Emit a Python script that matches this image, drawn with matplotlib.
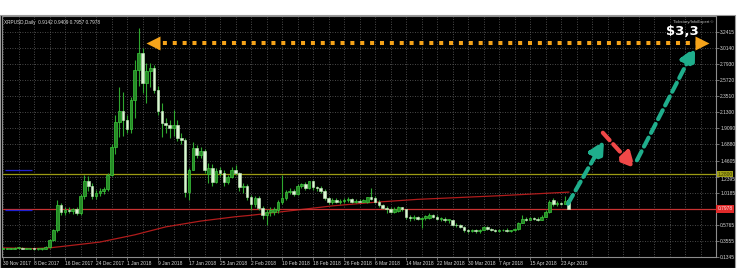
import matplotlib
matplotlib.use('Agg')
import matplotlib.pyplot as plt
import matplotlib.transforms as mtransforms
from matplotlib.patches import Rectangle
import numpy as np

# XRPUSD daily candles, 30 Nov 2017 .. 25 Apr 2018 (one per day)
opens = [0.25, 0.25, 0.25, 0.25, 0.26, 0.26, 0.25, 0.25, 0.25, 0.24, 0.24, 0.25, 0.27, 0.37, 0.50,
         0.85, 0.76, 0.78, 0.77, 0.80, 0.74, 0.97, 1.18, 1.12, 0.97, 1.02, 1.04, 1.07, 1.27, 1.65,
         2.00, 2.15, 2.03, 1.90, 2.30, 2.72, 2.95, 2.54, 2.70, 2.74, 2.44, 2.15, 1.98, 1.96, 1.92,
         1.96, 1.78, 1.75, 1.03, 1.34, 1.64, 1.54, 1.60, 1.28, 1.36, 1.17, 1.34, 1.30, 1.17, 1.24,
         1.33, 1.29, 1.10, 1.12, 0.96, 0.86, 0.95, 0.81, 0.71, 0.76, 0.76, 0.78, 0.90, 0.95, 1.03,
         1.05, 1.00, 1.12, 1.14, 1.09, 1.18, 1.10, 1.08, 1.05, 0.95, 0.89, 0.92, 0.90, 0.91, 0.92,
         0.93, 0.90, 0.91, 0.90, 0.90, 0.96, 0.95, 0.90, 0.85, 0.81, 0.80, 0.76, 0.77, 0.82, 0.79,
         0.68, 0.67, 0.69, 0.66, 0.67, 0.67, 0.72, 0.69, 0.66, 0.66, 0.64, 0.64, 0.58, 0.58, 0.55,
         0.50, 0.49, 0.51, 0.49, 0.51, 0.55, 0.52, 0.51, 0.49, 0.50, 0.51, 0.49, 0.50, 0.52, 0.61,
         0.66, 0.65, 0.67, 0.66, 0.65, 0.69, 0.76, 0.92, 0.86, 0.88, 0.87, 0.9142]
highs = [0.26, 0.26, 0.26, 0.27, 0.27, 0.27, 0.26, 0.26, 0.26, 0.25, 0.26, 0.28, 0.38, 0.52, 0.92,
         0.88, 0.82, 0.82, 0.81, 0.83, 1.00, 1.27, 1.25, 1.15, 1.06, 1.08, 1.10, 1.30, 1.70, 2.10,
         2.48, 2.41, 2.10, 2.34, 2.85, 3.30, 3.02, 2.81, 2.81, 2.78, 2.50, 2.26, 2.05, 2.02, 2.16,
         2.02, 1.85, 1.78, 1.36, 1.72, 1.68, 1.65, 1.62, 1.43, 1.42, 1.36, 1.38, 1.34, 1.27, 1.38,
         1.40, 1.31, 1.15, 1.14, 0.99, 0.98, 0.98, 0.84, 0.80, 0.82, 0.83, 0.92, 1.27, 1.06, 1.08,
         1.07, 1.14, 1.16, 1.17, 1.19, 1.20, 1.12, 1.11, 1.07, 0.96, 0.95, 0.95, 0.93, 0.95, 0.96,
         0.95, 0.93, 0.93, 0.94, 0.96, 1.09, 0.97, 0.92, 0.87, 0.84, 0.82, 0.82, 0.84, 0.83, 0.80,
         0.71, 0.71, 0.70, 0.69, 0.72, 0.74, 0.73, 0.71, 0.68, 0.68, 0.66, 0.65, 0.60, 0.59, 0.56,
         0.52, 0.52, 0.52, 0.52, 0.56, 0.56, 0.54, 0.52, 0.52, 0.52, 0.53, 0.51, 0.54, 0.62, 0.72,
         0.68, 0.69, 0.69, 0.68, 0.71, 0.78, 0.92, 0.95, 0.91, 0.90, 0.97, 0.9409]
lows = [0.24, 0.24, 0.24, 0.24, 0.25, 0.25, 0.24, 0.24, 0.23, 0.23, 0.23, 0.24, 0.26, 0.35, 0.48,
        0.72, 0.72, 0.74, 0.73, 0.72, 0.72, 0.94, 1.05, 0.94, 0.93, 0.98, 1.00, 1.04, 1.25, 1.55,
        1.79, 1.80, 1.85, 1.85, 2.05, 2.50, 2.40, 2.26, 2.48, 2.40, 2.10, 1.79, 1.85, 1.78, 1.80,
        1.74, 1.70, 0.96, 0.92, 1.33, 1.50, 1.50, 1.30, 1.16, 1.12, 1.15, 1.25, 1.12, 1.14, 1.22,
        1.27, 1.05, 1.02, 0.92, 0.78, 0.82, 0.78, 0.66, 0.58, 0.70, 0.72, 0.74, 0.87, 0.92, 1.00,
        0.98, 0.99, 1.08, 1.06, 1.07, 1.06, 1.05, 1.02, 0.92, 0.87, 0.87, 0.88, 0.87, 0.88, 0.89,
        0.88, 0.88, 0.89, 0.89, 0.88, 0.92, 0.88, 0.83, 0.79, 0.74, 0.74, 0.74, 0.75, 0.77, 0.66,
        0.63, 0.64, 0.64, 0.54, 0.65, 0.66, 0.67, 0.64, 0.63, 0.62, 0.61, 0.56, 0.55, 0.53, 0.48,
        0.46, 0.48, 0.47, 0.47, 0.50, 0.50, 0.49, 0.48, 0.48, 0.49, 0.48, 0.48, 0.49, 0.51, 0.60,
        0.63, 0.64, 0.64, 0.63, 0.64, 0.68, 0.74, 0.84, 0.84, 0.85, 0.86, 0.7957]
closes = [0.25, 0.25, 0.25, 0.26, 0.26, 0.25, 0.25, 0.25, 0.24, 0.24, 0.25, 0.27, 0.37, 0.50, 0.85,
          0.76, 0.78, 0.77, 0.80, 0.74, 0.97, 1.18, 1.12, 0.97, 1.02, 1.04, 1.07, 1.27, 1.65, 2.00,
          2.15, 2.03, 1.90, 2.30, 2.72, 2.95, 2.54, 2.70, 2.74, 2.44, 2.15, 1.98, 1.96, 1.92, 1.96,
          1.78, 1.75, 1.03, 1.34, 1.64, 1.54, 1.60, 1.34, 1.36, 1.17, 1.32, 1.30, 1.17, 1.24, 1.33,
          1.29, 1.10, 1.12, 0.96, 0.86, 0.95, 0.81, 0.71, 0.76, 0.78, 0.80, 0.90, 0.95, 1.03, 1.05,
          1.00, 1.12, 1.14, 1.09, 1.18, 1.10, 1.08, 1.05, 0.95, 0.89, 0.92, 0.90, 0.91, 0.92, 0.93,
          0.90, 0.91, 0.90, 0.92, 0.96, 0.93, 0.89, 0.85, 0.81, 0.79, 0.76, 0.79, 0.82, 0.79, 0.68,
          0.67, 0.69, 0.66, 0.67, 0.70, 0.72, 0.69, 0.66, 0.66, 0.64, 0.64, 0.58, 0.57, 0.55, 0.50,
          0.49, 0.51, 0.49, 0.51, 0.55, 0.52, 0.51, 0.49, 0.50, 0.51, 0.49, 0.50, 0.52, 0.61, 0.66,
          0.65, 0.67, 0.66, 0.65, 0.69, 0.76, 0.90, 0.86, 0.88, 0.87, 0.91, 0.7978]

# moving average (day index, price)
ma_days = [0, 8, 12, 17, 25, 34, 42, 51, 60, 64, 77, 85, 96, 107, 128, 146]
ma_values = [0.26, 0.25, 0.26, 0.29, 0.34, 0.44, 0.55, 0.63, 0.69, 0.71, 0.79, 0.84, 0.89, 0.93, 0.98, 1.03]

date_labels = ['30 Nov 2017', '8 Dec 2017', '16 Dec 2017', '24 Dec 2017', '1 Jan 2018', '9 Jan 2018',
               '17 Jan 2018', '25 Jan 2018', '2 Feb 2018', '10 Feb 2018', '18 Feb 2018', '26 Feb 2018',
               '6 Mar 2018', '14 Mar 2018', '22 Mar 2018', '30 Mar 2018', '7 Apr 2018', '15 Apr 2018',
               '23 Apr 2018']
price_ticks = [3.2415, 3.0140, 2.7930, 2.5720, 2.3510, 2.1300, 1.9090, 1.6880, 1.4605, 1.2395,
               1.0185, 0.7975, 0.5765, 0.3555, 0.1345]
# the 0.7975 label sits under the current-price box
price_labels = ['3.2415', '3.0140', '2.7930', '2.5720', '2.3510', '2.1300', '1.9090', '1.6880',
                '1.4605', '1.2395', '1.0185', '', '0.5765', '0.3555', '0.1345']

resistance_level = 1.28
current_price = 0.7978
blue_levels = [1.34, 0.78]

# target line ($3,3) and the forecast arrows (day index, price)
target_price = 3.09
target_days = [38.7, 180.4]
forecast_arrows = [
    ((145.8, 0.87), (155.1, 1.74), '#1fae8c'),
    ((154.8, 1.85), (163.1, 1.36), '#f04848'),
    ((163.6, 1.47), (178.6, 3.03), '#1fae8c'),
]

W, H = 750, 268
fig = plt.figure(figsize=(W / 100, H / 100), dpi=100, facecolor='white')
fig.add_artist(Rectangle((0, 0), 735 / W, 253 / H, transform=fig.transFigure,
                         facecolor='black', edgecolor='#9a9a9a', lw=0.8, zorder=0))

ax = fig.add_axes([2 / W, 11 / H, 714 / W, 241 / H])
ax.set_facecolor('black')

o = np.array(opens)
h = np.array(highs)
l = np.array(lows)
c = np.array(closes)
days = np.arange(len(c))
bull = c >= o

ax.vlines(days, l, h, color='#2fa82f', lw=0.8, zorder=3)
body_low = np.minimum(o, c)
body_h = np.maximum(np.abs(c - o), 0.012)
ax.bar(days[bull], body_h[bull], bottom=body_low[bull], width=0.7,
       color='#268a26', edgecolor='#3cc83c', lw=0.5, zorder=4)
ax.bar(days[~bull], body_h[~bull], bottom=body_low[~bull], width=0.7,
       color='#dcf7d4', edgecolor='#c8f0c0', lw=0.4, zorder=4)

ax.plot(ma_days, ma_values, color='#b01c1c', lw=0.9, zorder=2)

ax.axhline(resistance_level, color='#9c9c14', lw=0.9, zorder=2)
ax.axhline(current_price, color='#c83232', lw=0.9, zorder=2)
ax.hlines(blue_levels, 0.5, 7.5, color='#2020d0', lw=0.9, zorder=2)

# orange target line with arrow heads
ax.plot(target_days, [target_price] * 2, color='#f5a31a', lw=2.9,
        linestyle=(0, (1, 1.45)), dash_capstyle='butt', zorder=6)
ax.plot(target_days[0], target_price, marker='<', ms=10.5, color='#f5a31a', mec='none', zorder=7)
ax.plot(target_days[1], target_price, marker='>', ms=10.5, color='#f5a31a', mec='none', zorder=7)

for start, end, col in forecast_arrows:
    ax.annotate('', xy=end, xytext=start, zorder=8,
                arrowprops=dict(arrowstyle='-|>,head_length=0.9,head_width=0.45',
                                color=col, lw=3, linestyle=(0, (2.4, 1.3)),
                                shrinkA=0, shrinkB=0, mutation_scale=10))

ax.text(0.953, 0.935, '$3,3', transform=ax.transAxes, color='white', fontsize=9.5,
        fontweight='bold', ha='center', va='center', zorder=9)
ax.text(0.997, 0.985, 'Tickstory/InfoExpert \u00a9', transform=ax.transAxes, color='#c8c8c8',
        fontsize=3, ha='right', va='top', family='Liberation Sans')
ax.text(0.003, 0.985, 'XRPUSD,Daily  0.9142 0.9409 0.7957 0.7978', transform=ax.transAxes,
        color='#e0e0e0', fontsize=3.4, ha='left', va='top', family='Liberation Sans')

ax.set_xlim(-0.26, 184.0)
ax.set_ylim(0.1338, 3.4625)

ax.set_xticks(np.arange(0, 8 * len(date_labels), 8))
ax.set_xticklabels(date_labels, ha='left', family='Liberation Sans')
ax.set_xticks(np.arange(0, 185, 4), minor=True)
ax.set_yticks(price_ticks)
ax.set_yticklabels(price_labels, family='Liberation Sans')
ax.yaxis.tick_right()
ax.tick_params(axis='both', colors='#9a9a9a', labelcolor='#d8d8d8', labelsize=3.5,
               length=2, width=0.5, pad=1)
ax.tick_params(axis='x', which='minor', length=0)
# 1.2395 peeks out just below the resistance box
ax.yaxis.get_major_ticks()[price_labels.index('1.2395')].label2.set_va('top')
ax.grid(True, which='both', color='#626262', linestyle=(0, (1, 2)), lw=0.6)
for s in ax.spines.values():
    s.set_color('#8c8c8c')
    s.set_linewidth(0.8)

# price boxes on the right scale
ymix = mtransforms.blended_transform_factory(ax.transAxes, ax.transData)
ax.text(1.002, resistance_level, '%.4f' % resistance_level, transform=ymix, color='#3a3a00',
        fontsize=3.5, ha='left', va='center', family='Liberation Sans', clip_on=False, zorder=10,
        bbox=dict(facecolor='#a0a018', edgecolor='none', pad=0.5))
ax.text(1.002, current_price, '%.4f' % current_price, transform=ymix, color='#ffe6e6',
        fontsize=3.5, ha='left', va='center', family='Liberation Sans', clip_on=False, zorder=10,
        bbox=dict(facecolor='#e02a2a', edgecolor='none', pad=0.9))

fig.savefig('out.png', dpi=100, facecolor='white')
